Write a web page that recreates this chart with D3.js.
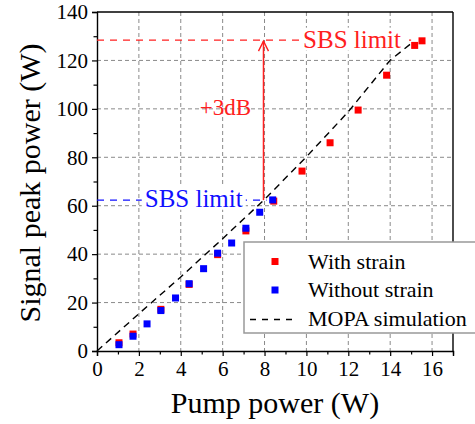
<!DOCTYPE html>
<html>
<head>
<meta charset="utf-8">
<script src="https://cdn.jsdelivr.net/npm/d3@7"></script>
<style>
  body { margin: 0; background: #fff; }
  svg text { font-family: 'Liberation Serif', 'Times New Roman', Times, serif !important; }
</style>
</head>
<body>
<svg width="475" height="424" font-family="Liberation Serif"></svg>
<script>
// data
var xWith = [1.05, 1.72, 3.05, 4.40, 5.76, 7.11, 8.44, 9.79, 11.13, 12.47, 13.83, 15.17, 15.52];
var yWith = [3.4, 7.0, 17.2, 27.5, 39.8, 49.6, 61.9, 74.3, 86.0, 99.5, 113.9, 126.2, 128.1];
var xWithout = [1.05, 1.72, 2.39, 3.05, 3.75, 4.40, 5.09, 5.76, 6.43, 7.11, 7.77, 8.39];
var yWithout = [2.6, 6.1, 11.2, 16.7, 21.9, 27.8, 34.0, 40.4, 44.6, 50.7, 57.3, 62.4];
var simX = [0, 2, 4, 6, 8, 10, 12, 14, 15];
var simY = [0, 15.4, 30.6, 46.4, 62.6, 80.2, 98.8, 120.1, 127];
var sbsWith = 128.4, sbsWithout = 62.3;
var xTicks = [0, 2, 4, 6, 8, 10, 12, 14, 16];
var yTicks = [0, 20, 40, 60, 80, 100, 120, 140];
var legendLabels = ["With strain", "Without strain", "MOPA simulation"];

var svg = d3.select('svg');
var margin = {left: 97, top: 12, right: 22, bottom: 73};
var width = 475 - margin.left - margin.right;
var height = 424 - margin.top - margin.bottom;
var g = svg.append("g").attr("transform", "translate(" + margin.left + "," + margin.top + ")");

var x = d3.scaleLinear().domain([0, 17]).range([0, width]);
var y = d3.scaleLinear().domain([0, 140]).range([height, 0]);

// grid
g.selectAll(".vgrid").data(xTicks.slice(1)).enter().append("line")
    .attr("x1", (d) => x(d)).attr("x2", (d) => x(d))
    .attr("y1", 0).attr("y2", height)
    .attr("stroke", "#8a8a8a").attr("stroke-width", 1).attr("stroke-dasharray", "4,3");
g.selectAll(".hgrid").data(yTicks.slice(1, -1)).enter().append("line")
    .attr("x1", 0).attr("x2", width)
    .attr("y1", (d) => y(d)).attr("y2", (d) => y(d))
    .attr("stroke", "#8a8a8a").attr("stroke-width", 1).attr("stroke-dasharray", "4,3");

// axes
var xAxis = g.append("g").attr("transform", "translate(0," + height + ")")
    .call(d3.axisBottom(x).tickValues(d3.range(0, 18, 1)).tickSize(5)
        .tickFormat((d) => d % 2 == 0 ? d : ""));
var yAxis = g.append("g")
    .call(d3.axisLeft(y).tickValues(d3.range(0, 150, 10)).tickSize(5)
        .tickFormat((d) => d % 20 == 0 ? d : ""));
[xAxis, yAxis].forEach(function(a) {
    a.attr("font-family", null);
    a.select(".domain").attr("stroke", "#000").attr("stroke-width", 1.4);
    a.selectAll(".tick line").attr("stroke", "#000").attr("stroke-width", 1.2);
    a.selectAll(".tick text").attr("font-size", 21).attr("fill", "#000");
});
xAxis.selectAll(".tick").filter((d) => d % 2 == 1).select("line").attr("y2", 3.5);
yAxis.selectAll(".tick").filter((d) => d % 20 == 10).select("line").attr("x2", -3.5);
xAxis.selectAll(".tick text").attr("dy", "0.71em").attr("y", 10);
yAxis.selectAll(".tick text").attr("x", -9);

// top and right frame
g.append("line").attr("x1", 0).attr("x2", width).attr("y1", 0).attr("y2", 0)
    .attr("stroke", "#000").attr("stroke-width", 1.4);
g.append("line").attr("x1", width).attr("x2", width).attr("y1", 0).attr("y2", height)
    .attr("stroke", "#000").attr("stroke-width", 1.4);

// SBS limit lines
g.append("line").attr("x1", x(0)).attr("x2", x(15.0))
    .attr("y1", y(sbsWith)).attr("y2", y(sbsWith))
    .attr("stroke", "#ff2020").attr("stroke-width", 1.4).attr("stroke-dasharray", "7,6");
g.append("line").attr("x1", x(0)).attr("x2", x(8.1))
    .attr("y1", y(sbsWithout)).attr("y2", y(sbsWithout))
    .attr("stroke", "#1010ff").attr("stroke-width", 1.4).attr("stroke-dasharray", "7,6");

function label(tx, ty, txt, color, size) {
    var bg = g.append("rect").attr("fill", "#fff");
    var t = g.append("text").attr("x", tx).attr("y", ty).attr("fill", color)
        .attr("font-size", size).text(txt);
    var b = t.node().getBBox();
    bg.attr("x", b.x - 3).attr("y", b.y + 2).attr("width", b.width + 6).attr("height", b.height - 4);
}
label(x(9.84), y(sbsWith) + 7.6, "SBS limit", "#ff2020", 25);
label(x(2.28), y(sbsWithout) + 6.6, "SBS limit", "#1010ff", 25);

// arrow +3dB
g.append("line").attr("x1", x(7.95)).attr("x2", x(7.95))
    .attr("y1", y(sbsWithout)).attr("y2", y(sbsWith) + 1)
    .attr("stroke", "#ff2020").attr("stroke-width", 1.5);
g.append("path")
    .attr("d", "M" + (x(7.95) - 5) + "," + (y(sbsWith) + 11) + "L" + x(7.95) + "," + (y(sbsWith) + 1) +
        "L" + (x(7.95) + 5) + "," + (y(sbsWith) + 11))
    .attr("fill", "none").attr("stroke", "#ff2020").attr("stroke-width", 1.4);
g.append("text").attr("x", x(4.91)).attr("y", y(97.4)).attr("fill", "#ff2020")
    .attr("font-size", 23).text("+3dB");

// MOPA simulation
var line = d3.line().x((d) => x(d[0])).y((d) => y(d[1]));
g.append("path").datum(d3.zip(simX, simY)).attr("d", line)
    .attr("fill", "none").attr("stroke", "#000").attr("stroke-width", 1.4).attr("stroke-dasharray", "7,5");

// markers
var sz = 7;
g.selectAll(".pw").data(d3.zip(xWith, yWith)).enter().append("rect")
    .attr("x", (d) => x(d[0]) - sz / 2).attr("y", (d) => y(d[1]) - sz / 2)
    .attr("width", sz).attr("height", sz).attr("fill", "#ff0000");
g.selectAll(".pwo").data(d3.zip(xWithout, yWithout)).enter().append("rect")
    .attr("x", (d) => x(d[0]) - sz / 2).attr("y", (d) => y(d[1]) - sz / 2)
    .attr("width", sz).attr("height", sz).attr("fill", "#0000ff");

// legend
var lg = svg.append("g").attr("transform", "translate(244,242)");
lg.append("rect").attr("x", 0).attr("y", 0).attr("width", 250).attr("height", 91)
    .attr("fill", "#fff").attr("stroke", "#999").attr("stroke-width", 1.5);
lg.append("rect").attr("x", 27.5).attr("y", 16).attr("width", sz).attr("height", sz).attr("fill", "#ff0000");
lg.append("rect").attr("x", 27.5).attr("y", 44.5).attr("width", sz).attr("height", sz).attr("fill", "#0000ff");
lg.append("line").attr("x1", 6).attr("x2", 53).attr("y1", 77.5).attr("y2", 77.5)
    .attr("stroke", "#000").attr("stroke-width", 1.4).attr("stroke-dasharray", "6,6");
lg.selectAll(".lt").data(legendLabels).enter().append("text")
    .attr("x", 64).attr("y", (d, i) => 26.5 + i * 28.5)
    .attr("font-size", 22).attr("fill", "#000").text((d) => d);

// axis titles
svg.append("text").attr("x", 275).attr("y", 413).attr("text-anchor", "middle")
    .attr("font-size", 30).text("Pump power (W)");
svg.append("text").attr("transform", "translate(40,183) rotate(-90)").attr("text-anchor", "middle")
    .attr("font-size", 30).text("Signal peak power (W)");
</script>
</body>
</html>
